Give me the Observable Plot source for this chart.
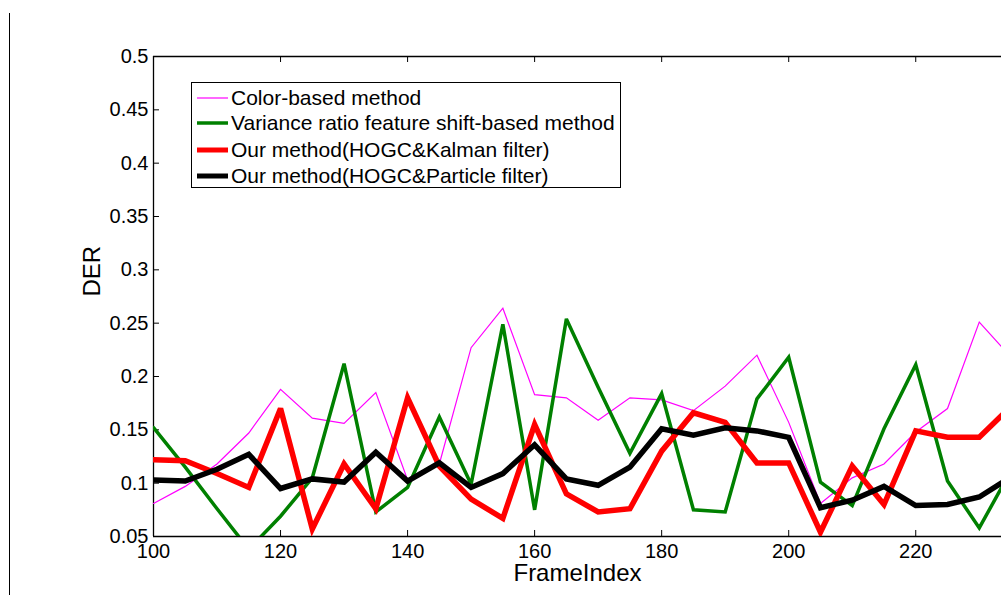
<!DOCTYPE html>
<html>
<head>
<meta charset="utf-8">
<script src="https://cdn.jsdelivr.net/npm/d3@7"></script>
<script src="https://cdn.jsdelivr.net/npm/@observablehq/plot@0.6"></script>
<style>
  html, body { margin: 0; padding: 0; background: #fff; }
  #wrap { position: relative; width: 1001px; height: 595px; overflow: hidden; font-family: "Liberation Sans", Arial, sans-serif; }
  #legend { position: absolute; left: 191px; top: 82px; width: 430px; height: 106px; border: 1.3px solid #000; background: #fff; box-sizing: border-box; }
  .row { position: absolute; left: 0; height: 26px; display: flex; align-items: center; font-size: 21px; color: #000; white-space: nowrap; }
  .sw { width: 31px; margin-left: 5px; margin-right: 3px; }
  #vline { position: absolute; left: 9px; top: 13px; width: 1.3px; height: 590px; background: #000; }
</style>
</head>
<body>
<div id="wrap"><div id="vline"></div></div>
<script>
const frames = [100,105,110,115,120,125,130,135,140,145,150,155,160,165,170,175,180,185,190,195,200,205,210,215,220,225,230,235];
const colorBased = [0.081,0.097,0.118,0.147,0.188,0.161,0.156,0.185,0.103,0.118,0.227,0.264,0.183,0.180,0.159,0.180,0.178,0.168,0.191,0.220,0.157,0.081,0.105,0.118,0.148,0.170,0.251,0.218];
const varianceRatio = [0.152,0.115,0.076,0.038,0.069,0.105,0.212,0.073,0.096,0.162,0.099,0.249,0.075,0.254,0.190,0.128,0.184,0.075,0.073,0.179,0.218,0.101,0.079,0.151,0.211,0.102,0.058,0.112];
const kalman = [0.122,0.121,0.109,0.096,0.170,0.057,0.118,0.076,0.180,0.116,0.085,0.067,0.155,0.090,0.073,0.076,0.130,0.166,0.157,0.119,0.119,0.054,0.116,0.080,0.149,0.143,0.143,0.172];
const particle = [0.103,0.102,0.113,0.127,0.095,0.104,0.101,0.129,0.102,0.119,0.096,0.109,0.136,0.104,0.098,0.115,0.151,0.145,0.152,0.149,0.143,0.077,0.084,0.097,0.079,0.080,0.087,0.106];
const seriesNames = ["Color-based method","Variance ratio feature shift-based method","Our method(HOGC&Kalman filter)","Our method(HOGC&Particle filter)"];
const seriesColors = ["#ff00ff","#008000","#ff0000","#000000"];
const seriesWidths = [1.2,3.5,5.5,5.5];
const xTicks = [100,120,140,160,180,200,220];
const yTicks = [0.05,0.1,0.15,0.2,0.25,0.3,0.35,0.4,0.45,0.5];

const allSeries = [colorBased, varianceRatio, kalman, particle];
const data = allSeries.map((vals, i) => frames.map((f, j) => ({frame: f, der: vals[j], s: i})));

const xMin = 100, xMax = 233.5, yMin = 0.05, yMax = 0.5;
const tkx = 6 / 6.3525, tky = 6 / 1066;

const marks = [
  Plot.ruleY([yMax], {stroke: "#000", strokeWidth: 1.3}),
  Plot.ruleY([yMin], {stroke: "#000", strokeWidth: 1.3}),
  Plot.ruleX([xMin], {stroke: "#000", strokeWidth: 1.3}),
  Plot.ruleX(xTicks, {x: d => d, y1: yMin, y2: yMin + tky, stroke: "#000"}),
  Plot.ruleX(xTicks, {x: d => d, y1: yMax, y2: yMax - tky, stroke: "#000"}),
  Plot.ruleY(yTicks, {y: d => d, x1: xMin, x2: xMin + tkx, stroke: "#000"}),
  ...data.map((d, i) => Plot.line(d, {x: "frame", y: "der", stroke: seriesColors[i], strokeWidth: seriesWidths[i], strokeLinejoin: "miter", strokeMiterlimit: 3, clip: true})),
  Plot.axisX(xTicks, {tickSize: 0, tickPadding: 7, fontSize: 20, tickFormat: d => String(d), label: null}),
  Plot.axisY(yTicks, {tickSize: 0, tickPadding: 5, fontSize: 20, tickFormat: d => String(+d.toFixed(2)), label: null}),
  Plot.text(["FrameIndex"], {frameAnchor: "bottom", dy: 44, text: d => d, fontSize: 24, fill: "#000"}),
  Plot.text(["DER"], {frameAnchor: "left", dx: -61, rotate: -90, text: d => d, fontSize: 24, fill: "#000"})
];

const chart = Plot.plot({
  width: 1001,
  height: 595,
  marginLeft: 153,
  marginRight: 0,
  marginTop: 56,
  marginBottom: 59,
  style: {fontFamily: "'Liberation Sans', Arial, sans-serif", color: "#000", background: "#fff", overflow: "visible"},
  x: {domain: [xMin, xMax]},
  y: {domain: [yMin, yMax]},
  marks
});
const wrap = document.getElementById("wrap");
wrap.insertBefore(chart, wrap.firstChild);
chart.style.position = "absolute"; chart.style.left = "0"; chart.style.top = "0";

const legend = document.createElement("div");
legend.id = "legend";
const rowTops = [2, 27, 54, 80];
seriesNames.forEach((name, i) => {
  const row = document.createElement("div");
  row.className = "row";
  row.style.top = rowTops[i] + "px";
  row.innerHTML = `<svg class="sw" width="31" height="10"><line x1="0" x2="31" y1="5" y2="5" stroke="${seriesColors[i]}" stroke-width="${Math.min(seriesWidths[i], 5)}"/></svg><span>${name.replace(/&/g, "&amp;")}</span>`;
  legend.appendChild(row);
});
wrap.appendChild(legend);
</script>
</body>
</html>
